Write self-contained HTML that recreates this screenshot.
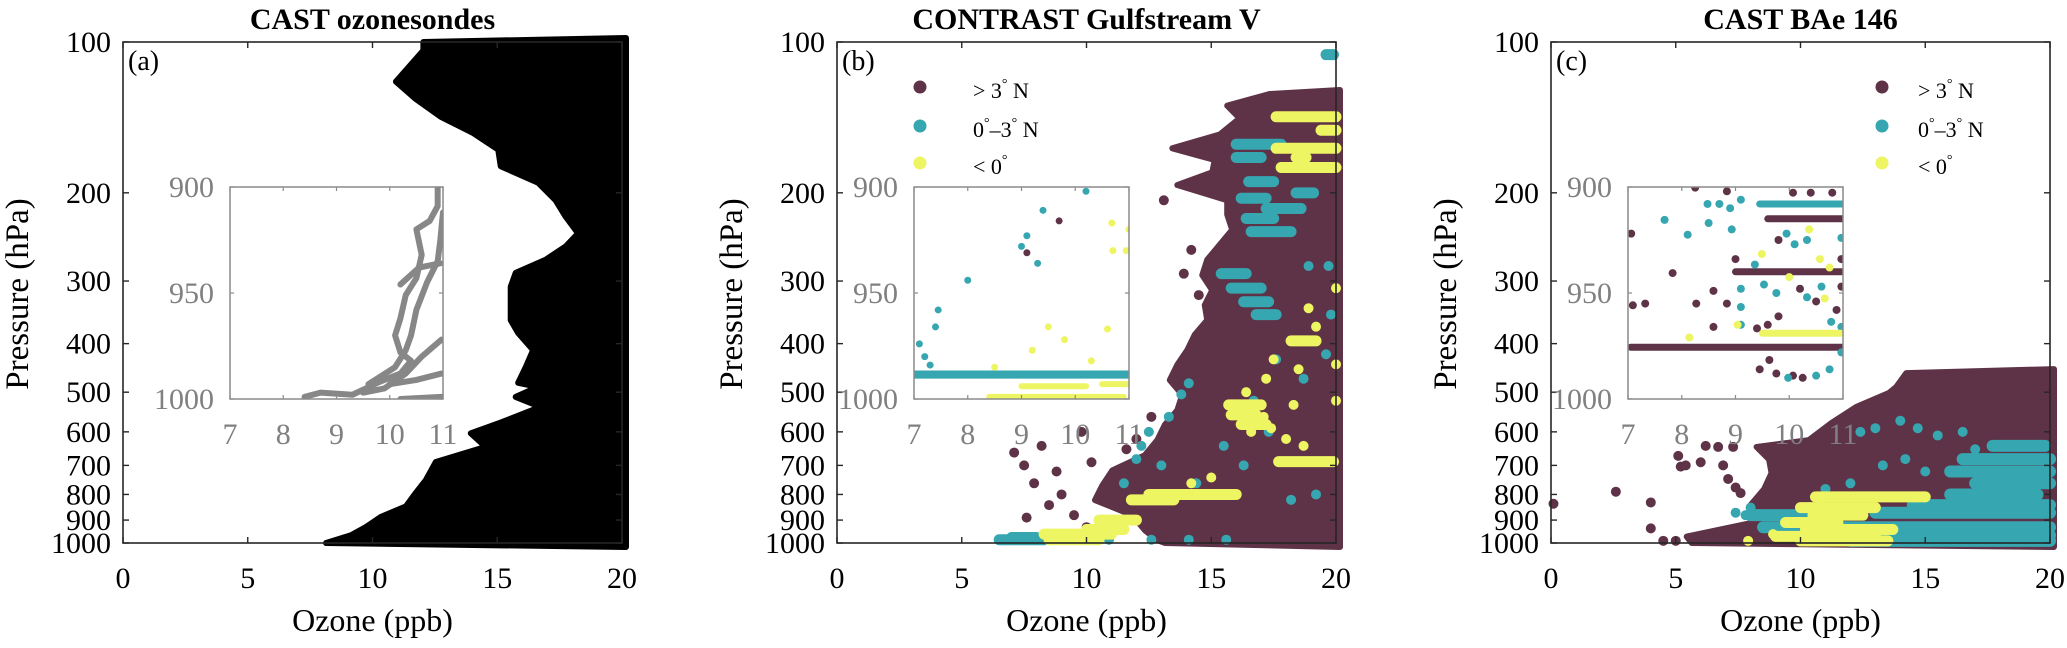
<!DOCTYPE html>
<html><head><meta charset="utf-8"><title>Ozone profiles</title>
<style>
html,body{margin:0;padding:0;background:#fff;}
svg, svg text{font-family:"Liberation Serif","DejaVu Serif",serif;}
</style></head>
<body>
<svg id="chart" width="2067" height="643" viewBox="0 0 2067 643" xmlns="http://www.w3.org/2000/svg" font-family="Liberation Serif, DejaVu Serif, serif">
<defs>
<clipPath id="clipIa"><rect x="230" y="187" width="213" height="212"/></clipPath>
<clipPath id="clipIb"><rect x="914" y="187" width="215" height="212"/></clipPath>
<clipPath id="clipIc"><rect x="1628" y="187" width="215" height="212"/></clipPath>
</defs>
<g id="layer"></g>
</svg>
<script>
// ---------- data ----------
const xTicks = [0, 5, 10, 15, 20];
const yTicks = [100, 200, 300, 400, 500, 600, 700, 800, 900, 1000];
const insetXTicks = [7, 8, 9, 10, 11];
const insetYTicks = [900, 950, 1000];
const panelTitles = ["CAST ozonesondes", "CONTRAST Gulfstream V", "CAST BAe 146"];
const panelTags = ["(a)", "(b)", "(c)"];

// Panel a: ozonesonde envelope (pressure, minimum ozone)
const aPres = [100,104,120,130,141,152,164,177,191,207,223,241,256,272,289,308,359,381,412,446,479,488,511,535,575,604,643,689,749,794,845,887,929,965,1000];
const aMinO3 = [12.2,12.2,11.1,11.9,12.9,14.2,15.2,15.3,16.8,17.5,17.9,18.4,17.9,17.1,15.9,15.7,15.7,16.0,16.6,16.3,16.0,16.8,15.9,16.9,15.3,14.1,14.7,12.7,12.3,11.9,11.5,10.5,9.9,9.3,8.3];
// Panel a inset traces (ozone, pressure)
const aInsetTraces = [
 [[10.9,900],[10.9,909],[10.75,916],[10.5,920],[10.6,932],[10.5,943],[10.3,951],[10.2,962],[10.1,970],[10.2,978],[10.4,982],[10.2,988],[9.8,992],[9.55,995],[9.3,998],[8.7,997],[8.4,999]],
 [[11,912],[10.95,925],[10.9,935],[10.7,945],[10.5,958],[10.4,970],[10.3,977],[10.1,985],[9.6,993]],
 [[10.97,972],[10.6,980],[10.3,988],[9.9,995],[9.5,997]],
 [[10.95,936],[10.55,938],[10.2,946]],
 [[10.97,988],[10.5,991],[10.0,993]],
 [[10.97,999],[10.2,1000]]
];

// Panel b: >3N envelope
const bPres = [127,134,142,153,163,172,182,193,207,221,237,254,272,292,313,335,359,384,412,441,473,506,543,581,623,668,716,767,821,880,943,987,1000];
const bMinO3 = [17.5,15.8,16.3,15.5,13.6,15.3,15.2,13.8,15.8,15.8,16.0,15.5,15.0,14.8,15.2,14.9,15.0,14.5,14.2,13.8,13.5,14.0,13.8,13.3,13.0,12.5,11.2,10.8,10.5,12.0,12.5,13.0,13.3];
const bNorthO3 = [7.1,7.5,7.9,8.2,8.8,9.0,7.6,9.8,10.2,13.1,14.2,13.9,14.5,12.6,12.0,11.6,9.5,8.5,10.0];
const bNorthP = [660,700,760,640,720,800,890,600,690,207,260,290,320,560,620,650,880,840,930];
// Panel b: 0-3N runs (pressure, start, end)
const bEqRunP = [106,160,170,190,205,215,225,239,200,290,310,330,350,985,975];
const bEqRunA = [19.6,16.0,16.0,16.5,16.2,17.2,16.4,16.6,18.4,15.4,15.8,16.3,16.8,6.5,7.0];
const bEqRunB = [19.9,17.8,17.0,17.5,17.2,18.6,17.5,18.2,19.1,16.4,17.0,17.3,17.6,8.3,8.0];
const bEqO3 = [14.1,13.8,13.3,12.5,12.2,12.0,16.7,17.3,18.7,19.6,19.8,19.7,18.9,17.6,15.5,16.3,14.4,13.3,19.2,18.2,10.9,12.6,14.1,15.6,11.5,13.0];
const bEqP = [480,505,560,600,640,680,520,600,470,420,350,280,280,430,640,700,760,820,800,820,985,985,985,985,760,700];
// Panel b: <0 runs
const bSouthRunP = [141,150,163,178,170,395,530,555,580,688,800,820,900,940,960,985];
const bSouthRunA = [17.6,19.4,17.6,17.8,18.4,18.2,15.7,15.8,16.2,17.7,12.5,11.8,10.5,10.0,8.3,8.5];
const bSouthRunB = [20,20,20,20,18.8,19.2,17.0,16.8,17.2,19.9,16.0,13.5,12.0,11.5,11.0,10.5];
const bSouthO3 = [16.6,17.4,18.0,18.7,17.1,18.3,17.5,18.5,19.2,18.9,17.2,16.4,20,20,20,14.2,15.0];
const bSouthP = [600,590,620,640,560,530,430,450,370,340,470,500,310,440,520,760,740];
// Panel b inset points
const bInEqO3 = [7.1,7.2,7.3,7.4,7.45,8.0,9.1,9.4,9.0,9.3,10.2];
const bInEqP = [974,980,984,966,958,944,923,911,928,936,902];
const bInEqRowA = [7.0, 7.0];
const bInEqRowB = [11.0, 11.0];
const bInEqRowP = [989, 988];
const bInNorthO3 = [9.1,9.7];
const bInNorthP = [931,916];
const bInSouthO3 = [9.5,9.2,8.5,10.68,11.0,10.7,10.95,10.6,9.8,10.3];
const bInSouthP = [966,977,985,917,920,930,930,967,972,982];
const bInSouthRowA = [8.4, 9.0, 10.5];
const bInSouthRowB = [10.9, 10.2, 11.0];
const bInSouthRowP = [999, 994, 993];

// Panel c: >3N envelope
const cPres = [458,488,502,535,576,623,643,681,725,781,847,912,971,1000];
const cMinO3 = [14.4,14.0,13.7,12.4,11.4,10.5,8.4,8.9,9.0,8.7,8.1,8.2,5.6,5.8];
const cNorthO3 = [5.2,5.1,5.4,6.0,6.7,7.3,6.9,7.1,7.4,7.6,4.0,4.0,0.1,2.6,5.0,4.5,6.2];
const cNorthP = [704,670,700,690,643,643,700,745,775,795,830,935,835,790,990,990,640];
// Panel c: 0-3N runs
const cEqRunP = [930,965,990,640,680,720,760,800,840,870,880,930,955];
const cEqRunA = [12.0,12.5,12.0,17.7,16.5,16.0,17.0,16.0,14.5,13.0,8.0,8.5,9.0];
const cEqRunB = [20,20,20,19.8,20,20,20,19.5,20,20,11.0,12.0,11.5];
const cEqO3 = [12.4,13.0,14.0,14.7,15.5,16.5,17.0,14.2,15.0,13.3,12.0,11.0,10.8,8.0,7.8,7.4];
const cEqP = [600,590,570,590,610,600,650,680,720,700,760,780,840,850,880,870];
// Panel c: <0 runs
const cSouthRunP = [809,850,880,910,940,970,990];
const cSouthRunA = [10.6,10.0,10.5,9.4,10.2,9.0,10.0];
const cSouthRunB = [15.0,13.0,12.5,11.5,13.7,13.0,13.5];
const cSouthO3 = [7.9,8.9];
const cSouthP = [990,960];
// Panel c inset
const cInNorthRowA = [7.05, 9.6, 9.0];
const cInNorthRowB = [11.0, 11.0, 11.0];
const cInNorthRowP = [975.6, 915, 940];
const cInNorthO3 = [7.06,7.83,7.09,7.32,8.27,8.59,8.59,8.84,9.0,9.45,9.76,9.63,10.07,10.25,10.07,10.4,10.8,9.8,9.8,10.5,10.88,9.4,9.6,10.2,10.97,10.97,8.84,8.25];
const cInNorthP = [922,940.6,955.8,955,955,949,966,955,934,986,988,981.6,989,990,902.7,902.7,902.7,925,961,954,958,966.7,965,948,934,947,902,900.3];
const cInEqRowA = [9.45];
const cInEqRowB = [11.0];
const cInEqRowP = [908];
const cInEqO3 = [7.68,8.11,8.5,8.48,8.7,8.9,9.1,8.93,9.1,9.1,9.1,9.36,9.53,9.76,9.95,10.1,10.33,10.33,10.6,10.78,10.97,10.97,10.97,10.75,10.5,9.98];
const cInEqP = [915.5,922.5,917,908,908,910,906,920,948,956.6,965,936.6,946,950,922,927,925,952,947,963.6,924,966,978,986,989,990];
const cInSouthRowA = [9.5];
const cInSouthRowB = [11.0];
const cInSouthRowP = [969];
const cInSouthO3 = [10.37,9.49,10.57,10.75,10.0,10.66,9.04,8.14];
const cInSouthP = [920,931.6,934,938,942.5,952.6,965,971];

// ---------- drawing ----------
const NS = "http://www.w3.org/2000/svg";
const FONT = '"Liberation Serif", "DejaVu Serif", serif';
const layer = document.getElementById('layer');
const COL = {north:"#5f3347", eq:"#36a6b1", south:"#eef562", black:"#000000", grey:"#878787", axis:"#262626"};
const panelLeft = [123, 837, 1551];
const PW = 499, TOP = 42, BOT = 543;
const insetLeft = [230, 914, 1628], INW = [213, 215, 215], ITOP = 187, IBOT = 399;

function mk(tag, attrs, parent) {
  const e = document.createElementNS(NS, tag);
  for (const k in attrs) e.setAttribute(k, attrs[k]);
  if (tag === 'text') e.style.fontFamily = FONT;
  (parent || layer).appendChild(e);
  return e;
}
function xs(i, v) { return panelLeft[i] + v / 20 * PW; }
function ys(p) { return TOP + Math.log10(p / 100) * (BOT - TOP); }
function ixs(i, v) { return insetLeft[i] + (v - 7) / 4 * INW[i]; }
function iys(p) { return ITOP + (p - 900) / 100 * (IBOT - ITOP); }

function envelope(i, pres, o3, color, name) {
  let d = "M" + (xs(i, 20) + 4) + "," + (ys(pres[0]) - 4);
  for (let k = 0; k < pres.length; k++) {
    d += " L" + (xs(i, o3[k]) - 4) + "," + ys(pres[k]);
  }
  d += " L" + (xs(i, 20) + 4) + "," + (ys(pres[pres.length - 1]) + 4) + " Z";
  const e = mk('path', {d: d, fill: color, stroke: color, 'stroke-width': 6, 'stroke-linejoin': 'round'});
  
  
}
function runs(fx, fy, P, A, B, color, w, name, parent) {
  for (let k = 0; k < P.length; k++) {
    const e = mk('line', {x1: fx(A[k]), x2: fx(B[k]), y1: fy(P[k]), y2: fy(P[k]), stroke: color, 'stroke-width': w, 'stroke-linecap': 'round'}, parent);
    
    
  }
}
function dots(fx, fy, O, P, color, r, name, parent) {
  for (let k = 0; k < O.length; k++) {
    const e = mk('circle', {cx: fx(O[k]), cy: fy(P[k]), r: r, fill: color}, parent);
    
    
  }
}

// Panel a data
envelope(0, aPres, aMinO3, COL.black, 'ozonesonde-data');
// Panel b data
envelope(1, bPres, bMinO3, COL.north, 'north-of-3n-data');
dots(v => xs(1, v), ys, bNorthO3, bNorthP, COL.north, 5, 'north-of-3n-point');
runs(v => xs(1, v), ys, bEqRunP, bEqRunA, bEqRunB, COL.eq, 11, 'equator-to-3n-run');
dots(v => xs(1, v), ys, bEqO3, bEqP, COL.eq, 5, 'equator-to-3n-point');
runs(v => xs(1, v), ys, bSouthRunP, bSouthRunA, bSouthRunB, COL.south, 11, 'south-of-equator-run');
dots(v => xs(1, v), ys, bSouthO3, bSouthP, COL.south, 5, 'south-of-equator-point');
// Panel c data
envelope(2, cPres, cMinO3, COL.north, 'north-of-3n-data');
dots(v => xs(2, v), ys, cNorthO3, cNorthP, COL.north, 5, 'north-of-3n-point');
runs(v => xs(2, v), ys, cEqRunP, cEqRunA, cEqRunB, COL.eq, 12, 'equator-to-3n-run');
dots(v => xs(2, v), ys, cEqO3, cEqP, COL.eq, 5, 'equator-to-3n-point');
runs(v => xs(2, v), ys, cSouthRunP, cSouthRunA, cSouthRunB, COL.south, 11, 'south-of-equator-run');
dots(v => xs(2, v), ys, cSouthO3, cSouthP, COL.south, 5, 'south-of-equator-point');

// Axes for main panels
for (let i = 0; i < 3; i++) {
  const L = panelLeft[i], R = L + PW;
  const g = mk('g', {});
  
  
  mk('rect', {x: L, y: TOP, width: PW, height: BOT - TOP, fill: 'none', stroke: COL.axis, 'stroke-width': 1.6}, g);
  xTicks.forEach(t => {
    const x = xs(i, t);
    mk('line', {x1: x, x2: x, y1: BOT, y2: BOT - 6, stroke: COL.axis, 'stroke-width': 1.4}, g);
    mk('line', {x1: x, x2: x, y1: TOP, y2: TOP + 6, stroke: COL.axis, 'stroke-width': 1.4}, g);
    const tx = mk('text', {x: x, y: 588, 'font-size': 30, 'text-anchor': 'middle', fill: '#000'}, g);
    tx.textContent = t;
    
    
  });
  yTicks.forEach(t => {
    const y = ys(t);
    mk('line', {x1: L, x2: L + 6, y1: y, y2: y, stroke: COL.axis, 'stroke-width': 1.4}, g);
    mk('line', {x1: R, x2: R - 6, y1: y, y2: y, stroke: COL.axis, 'stroke-width': 1.4}, g);
    const tx = mk('text', {x: L - 12, y: y + 10, 'font-size': 30, 'text-anchor': 'end', fill: '#000'}, g);
    tx.textContent = t;
    
    
  });
  const ti = mk('text', {x: L + PW / 2, y: 29, 'font-size': 30, 'font-weight': 'bold', 'text-anchor': 'middle', fill: '#000'});
  ti.textContent = panelTitles[i];
  
  
  const tg = mk('text', {x: L + 5, y: 70, 'font-size': 28, fill: '#000'});
  tg.textContent = panelTags[i];
  
  
  const xl = mk('text', {x: L + PW / 2, y: 631, 'font-size': 32, 'text-anchor': 'middle', fill: '#000'});
  xl.textContent = 'Ozone (ppb)';
  
  
  const yx = L - 106, yy = 294;
  const yl = mk('text', {x: yx, y: yy, 'font-size': 33, 'text-anchor': 'middle', fill: '#000', transform: 'rotate(-90 ' + yx + ' ' + yy + ') translate(0 11)'});
  yl.textContent = 'Pressure (hPa)';
  
  
}

// Insets
for (let i = 0; i < 3; i++) {
  const L = insetLeft[i], W = INW[i];
  const g = mk('g', {});
  
  
  mk('rect', {x: L, y: ITOP, width: W, height: IBOT - ITOP, fill: '#fff'}, g);
  const d = mk('g', {'clip-path': 'url(#clipI' + 'abc'[i] + ')'}, g);
  const fx = v => ixs(i, v);
  if (i === 0) {
    aInsetTraces.forEach(tr => {
      const e = mk('polyline', {points: tr.map(q => fx(q[0]) + ',' + iys(q[1])).join(' '), fill: 'none', stroke: COL.grey, 'stroke-width': 6, 'stroke-linejoin': 'round', 'stroke-linecap': 'round'}, d);
      
      
    });
  } else if (i === 1) {
    runs(fx, iys, bInEqRowP, bInEqRowA, bInEqRowB, COL.eq, 6, 'inset-equator-to-3n-run', d);
    dots(fx, iys, bInEqO3, bInEqP, COL.eq, 3.5, 'inset-equator-to-3n-point', d);
    runs(fx, iys, bInSouthRowP, bInSouthRowA, bInSouthRowB, COL.south, 6, 'inset-south-run', d);
    dots(fx, iys, bInSouthO3, bInSouthP, COL.south, 3.5, 'inset-south-point', d);
    dots(fx, iys, bInNorthO3, bInNorthP, COL.north, 3.5, 'inset-north-point', d);
  } else {
    runs(fx, iys, cInNorthRowP, cInNorthRowA, cInNorthRowB, COL.north, 7, 'inset-north-run', d);
    dots(fx, iys, cInNorthO3, cInNorthP, COL.north, 4, 'inset-north-point', d);
    runs(fx, iys, cInEqRowP, cInEqRowA, cInEqRowB, COL.eq, 7, 'inset-equator-to-3n-run', d);
    dots(fx, iys, cInEqO3, cInEqP, COL.eq, 4, 'inset-equator-to-3n-point', d);
    runs(fx, iys, cInSouthRowP, cInSouthRowA, cInSouthRowB, COL.south, 7, 'inset-south-run', d);
    dots(fx, iys, cInSouthO3, cInSouthP, COL.south, 4, 'inset-south-point', d);
  }
  mk('rect', {x: L, y: ITOP, width: W, height: IBOT - ITOP, fill: 'none', stroke: '#8a8a8a', 'stroke-width': 1.5}, g);
  insetXTicks.forEach(t => {
    const x = fx(t);
    mk('line', {x1: x, x2: x, y1: IBOT, y2: IBOT - 4, stroke: '#8a8a8a', 'stroke-width': 1.2}, g);
    mk('line', {x1: x, x2: x, y1: ITOP, y2: ITOP + 4, stroke: '#8a8a8a', 'stroke-width': 1.2}, g);
    const tx = mk('text', {x: x, y: 444, 'font-size': 30, 'text-anchor': 'middle', fill: '#808080'}, g);
    tx.textContent = t;
    
    
  });
  insetYTicks.forEach(t => {
    const y = iys(t);
    mk('line', {x1: L, x2: L + 4, y1: y, y2: y, stroke: '#8a8a8a', 'stroke-width': 1.2}, g);
    mk('line', {x1: L + W, x2: L + W - 4, y1: y, y2: y, stroke: '#8a8a8a', 'stroke-width': 1.2}, g);
    const tx = mk('text', {x: L - 16, y: y + 10, 'font-size': 30, 'text-anchor': 'end', fill: '#808080'}, g);
    tx.textContent = t;
    
    
  });
}

// Legends
const legendMarkerX = [920, 1882];
const legendTextX = [973, 1918];
const legendRows = [87, 126, 163];
[1, 2].forEach((pi, li) => {
  const g = mk('g', {});
  
  
  const cols = [COL.north, COL.eq, COL.south];
  cols.forEach((c, r) => {
    const m = mk('circle', {cx: legendMarkerX[li], cy: legendRows[r], r: 6.5, fill: c}, g);
    
    
    const t = mk('text', {x: legendTextX[li], y: legendRows[r] + 11, 'font-size': 22, fill: '#000'}, g);
    
    
    if (r === 0) t.innerHTML = '&gt; 3<tspan dy="-10" font-size="14">°</tspan><tspan dy="10"> N</tspan>';
    if (r === 1) t.innerHTML = '0<tspan dy="-10" font-size="14">°</tspan><tspan dy="10">–3</tspan><tspan dy="-10" font-size="14">°</tspan><tspan dy="10"> N</tspan>';
    if (r === 2) t.innerHTML = '&lt; 0<tspan dy="-10" font-size="14">°</tspan>';
  });
});
</script>
</body></html>
